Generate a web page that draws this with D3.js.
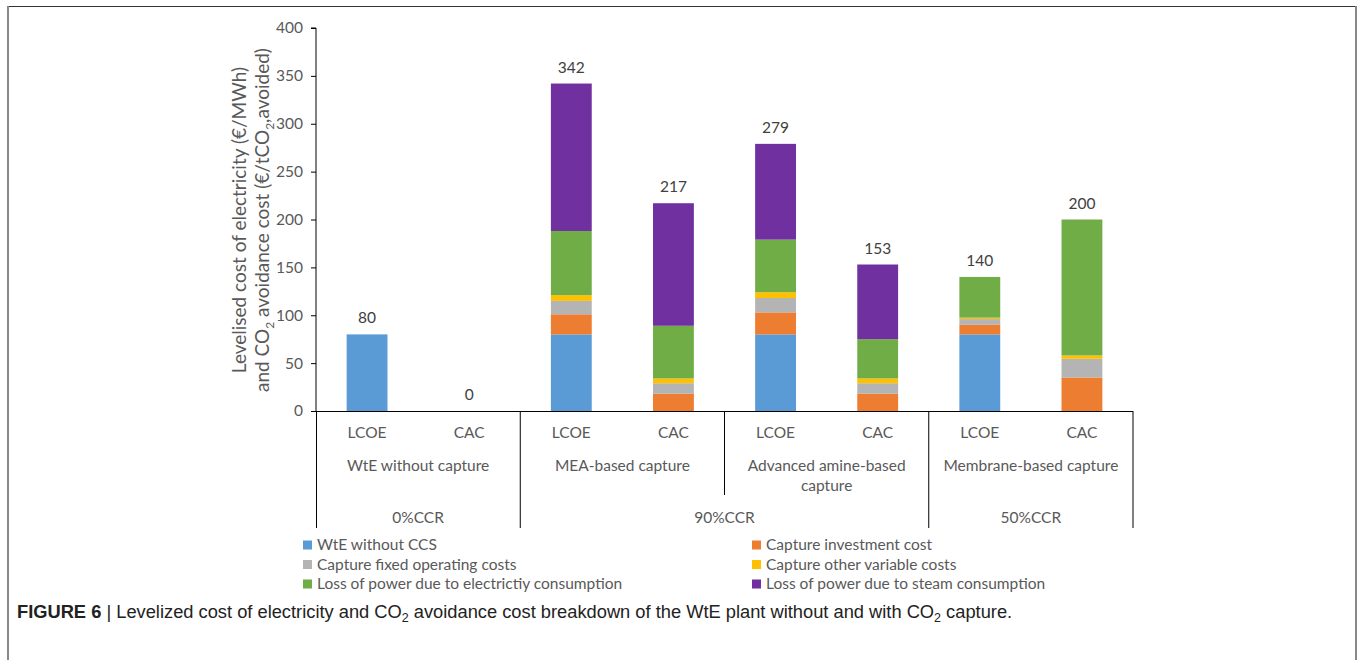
<!DOCTYPE html>
<html><head><meta charset="utf-8">
<script src="https://cdn.jsdelivr.net/npm/d3@7"></script>
<style>body{margin:0;background:#fff}svg{display:block}</style>
</head><body>
<svg id="c" width="1360" height="660"></svg>
<script>
const categories = ["LCOE","CAC","LCOE","CAC","LCOE","CAC","LCOE","CAC"];
const groups = [["WtE without capture"],["MEA-based capture"],["Advanced amine-based","capture"],["Membrane-based capture"]];
const ccr = ["0%CCR","90%CCR","50%CCR"];
const ccrSpan = [[0,2],[2,6],[6,8]];
const seriesNames = ["WtE without CCS","Capture investment cost","Capture fixed operating costs","Capture other variable costs","Loss of power due to electrictiy consumption","Loss of power due to steam consumption"];
const wte      = [80,0,80,0,80,0,80,0];
const invest   = [0,0,21,18,23,18,10,35];
const fixedOp  = [0,0,14,11,15,11,6,19.5];
const otherVar = [0,0,6,5,6,5,1.5,3.5];
const elecLoss = [0,0,67,55,55,41,42.5,142];
const steamLoss= [0,0,154,128,100,78,0,0];
const totals   = [80,0,342,217,279,153,140,200];
const yTicks = [0,50,100,150,200,250,300,350,400];
const colors = ["#5B9BD5","#ED7D31","#B4B4B4","#FFC000","#70AD47","#7030A0"];

const svg = d3.select("#c");
const txt = "#595959";
const font = "Lato, 'Open Sans', sans-serif";
// figure border
svg.append("line").attr("x1",8).attr("x2",1356).attr("y1",6.5).attr("y2",6.5).attr("stroke","#333").attr("stroke-width",1.2);
svg.append("line").attr("x1",8).attr("x2",8).attr("y1",6).attr("y2",660).attr("stroke","#888").attr("stroke-width",2);
svg.append("line").attr("x1",1356).attr("x2",1356).attr("y1",6).attr("y2",660).attr("stroke","#888").attr("stroke-width",2);

const x0 = 316, x1 = 1133, yTop = 28, yBot = 411;
const idx = categories.map((d,i)=>i);
const x = d3.scaleBand().domain(idx).range([x0,x1]).paddingInner(0.6).paddingOuter(0.3);
const step = (x1-x0)/categories.length;
const y = d3.scaleLinear().domain([0,400]).range([yBot,yTop]);

const table = idx.map(i=>({i, s0:wte[i], s1:invest[i], s2:fixedOp[i], s3:otherVar[i], s4:elecLoss[i], s5:steamLoss[i]}));
const keys = ["s0","s1","s2","s3","s4","s5"];
const stacked = d3.stack().keys(keys)(table);

const g = svg.append("g");
g.selectAll("g.layer").data(stacked).join("g").attr("fill",(d,k)=>colors[k])
 .selectAll("rect").data(d=>d.filter(v=>v[1]-v[0]>0)).join("rect")
 .attr("x",d=>x(d.data.i)).attr("width",x.bandwidth())
 .attr("y",d=>y(d[1])).attr("height",d=>y(d[0])-y(d[1]));

// total labels
g.selectAll("text.tot").data(idx).join("text")
 .attr("x",i=>x(i)+x.bandwidth()/2).attr("y",i=>y(totals[i])-11)
 .attr("text-anchor","middle").attr("font-family",font).attr("font-size",15.5).attr("fill","#404040")
 .text(i=>totals[i]);

// y axis
const ya = svg.append("g").attr("transform",`translate(${x0},0)`)
 .call(d3.axisLeft(y).tickValues(yTicks).tickSize(5).tickPadding(8));
ya.select(".domain").attr("stroke","#000").attr("d",`M-5,${yTop}H0V${yBot}`);
ya.selectAll(".tick line").attr("stroke","#000");
ya.selectAll("text").attr("font-family",font).attr("font-size",15.5).attr("fill",txt);

// category axis lines
const ax = svg.append("g").attr("stroke","#000").attr("stroke-width",1);
ax.append("line").attr("x1",x0).attr("x2",x1).attr("y1",yBot+0.5).attr("y2",yBot+0.5);
ax.append("line").attr("x1",x0+0.5).attr("x2",x0+0.5).attr("y1",yBot).attr("y2",528);
[2,6,8].forEach(k=>ax.append("line").attr("x1",x0+k*step).attr("x2",x0+k*step).attr("y1",yBot).attr("y2",528));
ax.append("line").attr("x1",x0+4*step).attr("x2",x0+4*step).attr("y1",yBot).attr("y2",495);

const lab = svg.append("g").attr("font-family",font).attr("font-size",15.5).attr("fill",txt).attr("text-anchor","middle");
idx.forEach(i=>lab.append("text").attr("x",x(i)+x.bandwidth()/2).attr("y",438).text(categories[i]));
groups.forEach((gl,k)=>{
  gl.forEach((t,j)=>lab.append("text").attr("x",x0+(2*k+1)*step).attr("y",471+j*20).text(t));
});
ccr.forEach((t,k)=>lab.append("text").attr("x",x0+(ccrSpan[k][0]+ccrSpan[k][1])/2*step).attr("y",523).text(t));

// y title
const yt = svg.append("g").attr("font-family",font).attr("font-size",19).attr("fill",txt).attr("text-anchor","middle");
yt.append("text").attr("transform","translate(246,220) rotate(-90)").text("Levelised cost of electricity (€/MWh)");
const t2 = yt.append("text").attr("transform","translate(269,220) rotate(-90)");
t2.append("tspan").text("and CO");
t2.append("tspan").attr("font-size",12).attr("dy",5).text("2");
t2.append("tspan").attr("dy",-5).text(" avoidance cost (€/tCO");
t2.append("tspan").attr("font-size",12).attr("dy",5).text("2");
t2.append("tspan").attr("dy",-5).text(",avoided)");

// legend
const lg = svg.append("g").attr("font-family",font).attr("font-size",15.5).attr("fill",txt);
seriesNames.forEach((n,k)=>{
  const col = k%2, row = Math.floor(k/2);
  const lx = col===0 ? 303 : 752, ly = 545 + row*19.5;
  lg.append("rect").attr("x",lx).attr("y",ly-4.5).attr("width",9).attr("height",9).attr("fill",colors[k]);
  lg.append("text").attr("x",lx+14).attr("y",ly+5).text(n);
});

// caption
const cap = svg.append("text").attr("x",17).attr("y",618).attr("font-family","'Liberation Sans', Arial, sans-serif").attr("font-size",18.3).attr("fill","#222");
cap.append("tspan").attr("font-weight","bold").text("FIGURE 6");
cap.append("tspan").text(" | Levelized cost of electricity and CO");
cap.append("tspan").attr("font-size",12.5).attr("dy",4).text("2");
cap.append("tspan").attr("dy",-4).text(" avoidance cost breakdown of the WtE plant without and with CO");
cap.append("tspan").attr("font-size",12.5).attr("dy",4).text("2");
cap.append("tspan").attr("dy",-4).text(" capture.");
</script>
</body></html>
